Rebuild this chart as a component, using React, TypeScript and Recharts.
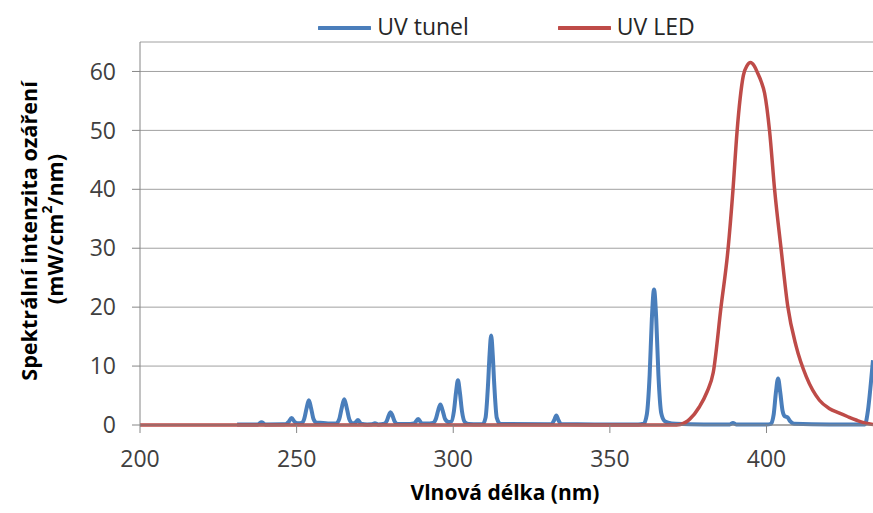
import React from 'react';
import { LineChart, Line, XAxis, YAxis, CartesianGrid, Legend } from 'recharts';

// UV tunel (mercury lamp) spectrum: wavelength (nm) and value (mW/cm2/nm)
const tunelNm = [
  231, 236.5, 237.6, 238.8, 240,
  245.5, 246.5, 247.4, 248.4, 249.4, 250.3,
  251.6, 252.4, 253.2, 253.9, 254.6, 255.4, 256.4,
  258.5, 260.5,
  262.6, 263.6, 264.4, 265.2, 266, 266.8, 267.8,
  268.6, 269.6, 270.6, 272.5,
  274, 275, 276,
  278, 278.8, 279.4, 280, 280.6, 281.3, 282.3,
  286.3, 287.5, 288.8, 290, 292.5,
  293.6, 294.5, 295.2, 295.9, 296.6, 297.4, 298.6,
  299.4, 300.2, 300.9, 301.5, 302.1, 302.8, 303.7, 305, 308,
  309.4, 310.3, 311.1, 311.6, 312.1, 312.6, 313.1, 313.9, 315, 318,
  330, 331.4, 332.2, 332.9, 333.6, 334.4, 345,
  359, 360.8, 361.8, 362.7, 363.4, 364.1, 364.8, 365.5, 366.4, 367.4, 368.6, 371, 380,
  388.3, 389.3, 390.3, 400,
  401.4, 402.3, 403, 403.7, 404.4, 405.1, 405.8, 406.7, 407.6, 408.8, 420,
  431.4, 432.4, 433.3, 434,
];
const tunelVal = [
  0.1, 0.1, 0.1, 0.45, 0.1,
  0.12, 0.15, 0.5, 1.2, 0.5, 0.3,
  0.35, 1.0, 2.9, 4.2, 2.9, 1.0, 0.4,
  0.35, 0.25,
  0.25, 1.0, 2.9, 4.35, 2.9, 1.0, 0.3,
  0.35, 0.85, 0.2, 0.1,
  0.12, 0.3, 0.1,
  0.2, 0.7, 1.6, 2.15, 1.6, 0.6, 0.15,
  0.15, 0.25, 1.0, 0.25, 0.25,
  0.35, 1.1, 2.5, 3.5, 2.5, 1.0, 0.5,
  0.6, 2.3, 5.6, 7.6, 5.6, 2.3, 0.5, 0.15, 0.12,
  0.15, 1.2, 6.8, 12, 15.2, 12, 6.8, 1.2, 0.2, 0.15,
  0.12, 0.15, 0.8, 1.6, 0.8, 0.15, 0.1,
  0.1, 0.2, 1.8, 8.5, 18, 23, 18, 8.5, 2.0, 0.7, 0.4, 0.2, 0.1,
  0.1, 0.35, 0.1, 0.1,
  0.2, 1.8, 5.5, 7.9, 5.5, 2.5, 1.5, 1.3, 0.6, 0.2, 0.1,
  0.1, 2.5, 7, 11,
];

// UV LED spectrum
const ledNm = [200, 370, 372.5, 375.5, 378.6, 381, 383, 385.5, 387.7, 389.3, 390.6, 391.6, 392.6, 393.8, 394.9, 396, 397.2, 398.3, 399.4, 401, 402.6, 404.7, 406.8, 409.5, 412.7, 416.9, 420, 423.3, 426, 428.6, 431, 434];
const ledVal = [0, 0, 0.1, 1.0, 3.1, 5.6, 8.9, 20.1, 29.7, 39.9, 49.8, 55.5, 59.3, 61.0, 61.5, 61.0, 59.7, 58.3, 56.3, 49.8, 39.9, 29.7, 20.1, 13.3, 8.2, 4.2, 2.8, 2.0, 1.4, 0.85, 0.4, 0.1];

const xTicks = [200, 250, 300, 350, 400];
const yTicks = [0, 10, 20, 30, 40, 50, 60];
const seriesNames = ['UV tunel', 'UV LED'];
const seriesColors = ['#4A7EBB', '#BE4B48'];

const tunelData = tunelNm.map((nm, i) => ({ nm, v: tunelVal[i] }));
const ledData = ledNm.map((nm, i) => ({ nm, v: ledVal[i] }));

const FONT = '"Open Sans", sans-serif';

function LegendContent() {
  return (
    <div
      style={{
        display: 'flex',
        justifyContent: 'center',
        alignItems: 'center',
        height: 32,
        paddingLeft: 140,
        boxSizing: 'border-box',
        fontFamily: FONT,
        fontSize: 23,
        color: '#262626',
      }}
    >
      {seriesNames.map((name, i) => (
        <div key={name} style={{ display: 'flex', alignItems: 'center', marginRight: i === 0 ? 89 : 0 }}>
          <svg width={53} height={8} style={{ marginTop: 3 }}>
            <line x1={1} y1={4} x2={52} y2={4} stroke={seriesColors[i]} strokeWidth={4} strokeLinecap="round" />
          </svg>
          <span style={{ marginLeft: 6, lineHeight: '32px', whiteSpace: 'nowrap' }}>{name}</span>
        </div>
      ))}
    </div>
  );
}

function YTitle() {
  return (
    <g>
      <text
        transform="rotate(-90, 28, 231)"
        x={28}
        y={231}
        textAnchor="middle"
        dominantBaseline="central"
        fontFamily={FONT}
        fontWeight="bold"
        fontSize={21.6}
        fill="#000"
      >
        Spektrální intenzita ozáření
      </text>
      <text
        transform="rotate(-90, 54, 229)"
        x={54}
        y={229}
        textAnchor="middle"
        dominantBaseline="central"
        fontFamily={FONT}
        fontWeight="bold"
        fontSize={21.6}
        fill="#000"
      >
        (mW/cm<tspan fontSize={14} dy={-8}>2</tspan><tspan dy={8}>/nm)</tspan>
      </text>
    </g>
  );
}

function XTitle() {
  return (
    <text x={505} y={500} textAnchor="middle" fontFamily={FONT} fontWeight="bold" fontSize={21} fill="#000">
      Vlnová délka (nm)
    </text>
  );
}

export default function App() {
  return (
    <div style={{ position: 'absolute', left: 0, top: 0, width: 873, height: 513, background: '#fff' }}>
      <LineChart width={873} height={513} margin={{ top: 10, right: 0, bottom: 0, left: 0 }}>
        <CartesianGrid vertical={false} stroke="#A0A0A0" strokeWidth={1} />
        <XAxis
          type="number"
          dataKey="nm"
          domain={[200, 434]}
          allowDataOverflow
          ticks={xTicks}
          height={88}
          tickSize={8}
          tickMargin={18}
          stroke="#868686"
          tick={{ fill: '#404040', fontSize: 23, fontFamily: FONT }}
          label={<XTitle />}
        />
        <YAxis
          type="number"
          domain={[0, 65]}
          ticks={yTicks}
          width={140}
          tickSize={8}
          tickMargin={16}
          stroke="#868686"
          tick={{ fill: '#404040', fontSize: 23, fontFamily: FONT }}
          label={<YTitle />}
        />
        <Legend verticalAlign="top" content={<LegendContent />} wrapperStyle={{ left: 0, width: 873 }} />
        <Line
          data={tunelData}
          dataKey="v"
          name={seriesNames[0]}
          type="monotone"
          stroke={seriesColors[0]}
          strokeWidth={4}
          dot={false}
          activeDot={false}
          isAnimationActive={false}
        />
        <Line
          data={ledData}
          dataKey="v"
          name={seriesNames[1]}
          type="monotone"
          stroke={seriesColors[1]}
          strokeWidth={3.5}
          dot={false}
          activeDot={false}
          isAnimationActive={false}
        />
      </LineChart>
    </div>
  );
}
